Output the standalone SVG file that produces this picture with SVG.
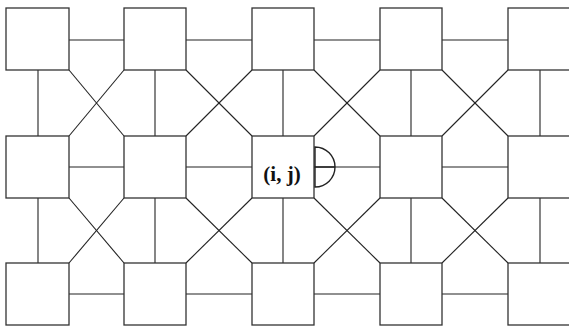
<svg xmlns="http://www.w3.org/2000/svg" width="569" height="327" viewBox="0 0 569 327">
<style>
.n rect{fill:#fff;stroke:#333;stroke-width:1.3}
.c line,.c path{stroke:#222;stroke-width:1.1;fill:none}
text{font-family:"Liberation Serif",serif;font-weight:bold;font-size:21px;fill:#111}
</style>
<rect width="569" height="327" fill="#fff"/>
<g class="c">
<line x1="69" y1="40" x2="124" y2="40"/><line x1="186" y1="40" x2="252" y2="40"/><line x1="314" y1="40" x2="380" y2="40"/><line x1="442" y1="40" x2="508" y2="40"/>
<line x1="69" y1="167" x2="124" y2="167"/><line x1="186" y1="167" x2="252" y2="167"/><line x1="314" y1="167" x2="380" y2="167"/><line x1="442" y1="167" x2="508" y2="167"/>
<line x1="69" y1="294" x2="124" y2="294"/><line x1="186" y1="294" x2="252" y2="294"/><line x1="314" y1="294" x2="380" y2="294"/><line x1="442" y1="294" x2="508" y2="294"/>
<line x1="38" y1="70" x2="38" y2="136"/><line x1="155" y1="70" x2="155" y2="136"/><line x1="283" y1="70" x2="283" y2="136"/><line x1="411" y1="70" x2="411" y2="136"/><line x1="540" y1="70" x2="540" y2="136"/>
<line x1="38" y1="198" x2="38" y2="263"/><line x1="155" y1="198" x2="155" y2="263"/><line x1="283" y1="198" x2="283" y2="263"/><line x1="411" y1="198" x2="411" y2="263"/><line x1="540" y1="198" x2="540" y2="263"/>
<line x1="69" y1="70" x2="124" y2="136"/><line x1="124" y1="70" x2="69" y2="136"/>
<line x1="186" y1="70" x2="252" y2="136"/><line x1="252" y1="70" x2="186" y2="136"/>
<line x1="314" y1="70" x2="380" y2="136"/><line x1="380" y1="70" x2="314" y2="136"/>
<line x1="442" y1="70" x2="508" y2="136"/><line x1="508" y1="70" x2="442" y2="136"/>
<line x1="69" y1="198" x2="124" y2="263"/><line x1="124" y1="198" x2="69" y2="263"/>
<line x1="186" y1="198" x2="252" y2="263"/><line x1="252" y1="198" x2="186" y2="263"/>
<line x1="314" y1="198" x2="380" y2="263"/><line x1="380" y1="198" x2="314" y2="263"/>
<line x1="442" y1="198" x2="508" y2="263"/><line x1="508" y1="198" x2="442" y2="263"/>
</g>
<g id="n00" class="n"><rect x="6" y="8" width="63" height="62"/></g>
<g id="n01" class="n"><rect x="124" y="8" width="62" height="62"/></g>
<g id="n02" class="n"><rect x="252" y="8" width="62" height="62"/></g>
<g id="n03" class="n"><rect x="380" y="8" width="62" height="62"/></g>
<g id="n04" class="n"><rect x="508" y="8" width="70" height="62"/></g>
<g id="n10" class="n"><rect x="6" y="136" width="63" height="62"/></g>
<g id="n11" class="n"><rect x="124" y="136" width="62" height="62"/></g>
<g id="n12" class="n"><rect x="252" y="136" width="62" height="62"/><text x="282" y="181" text-anchor="middle">(i, j)</text></g>
<g id="n13" class="n"><rect x="380" y="136" width="62" height="62"/></g>
<g id="n14" class="n"><rect x="508" y="136" width="70" height="62"/></g>
<g id="n20" class="n"><rect x="6" y="263" width="63" height="62"/></g>
<g id="n21" class="n"><rect x="124" y="263" width="62" height="62"/></g>
<g id="n22" class="n"><rect x="252" y="263" width="62" height="62"/></g>
<g id="n23" class="n"><rect x="380" y="263" width="62" height="62"/></g>
<g id="n24" class="n"><rect x="508" y="263" width="70" height="62"/></g>
<g id="semicircle" class="c">
<path d="M315,147 A20,20 0 0 1 315,187 Z" style="stroke-width:1.4"/>
<line x1="315" y1="167" x2="335" y2="167" style="stroke-width:1.5"/>
</g>
</svg>
